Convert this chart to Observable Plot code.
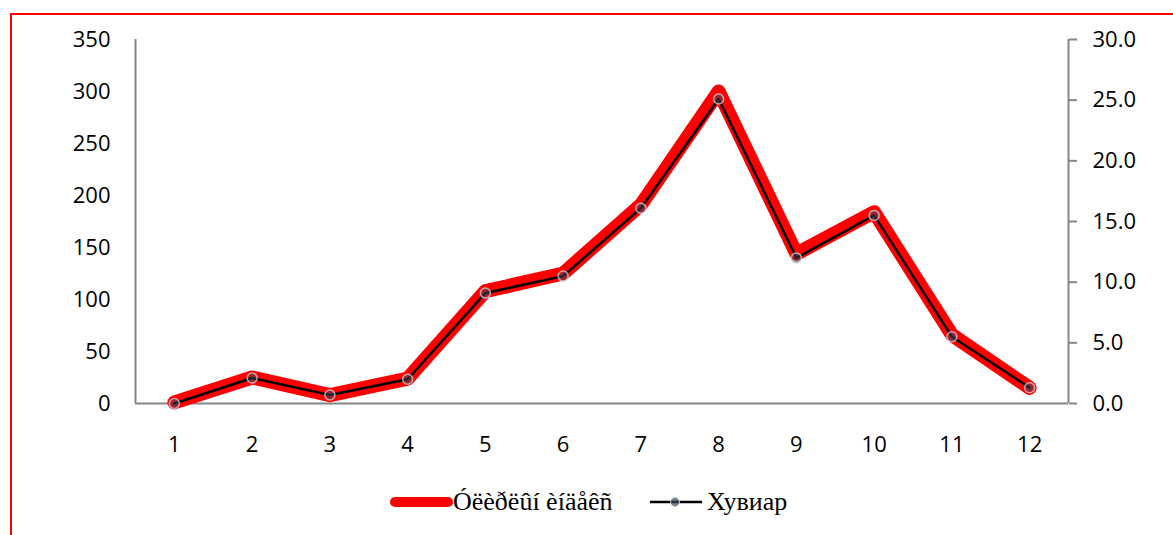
<!DOCTYPE html>
<html><head><meta charset="utf-8">
<script src="https://cdn.jsdelivr.net/npm/d3@7"></script>
<script src="https://cdn.jsdelivr.net/npm/@observablehq/plot@0.6"></script>
<style>
body{margin:0;background:#fff}
#wrap{position:relative;width:1173px;height:535px;overflow:hidden;background:#fff}
#border{position:absolute;left:10px;top:13px;width:1300px;height:700px;border-left:2px solid #ff0000;border-top:2px solid #ff0000;pointer-events:none}
#legend{position:relative;height:65px;font-family:"Liberation Serif",serif;font-size:26px;color:#000}
.item{position:absolute;top:17px;display:flex;align-items:center;white-space:nowrap}
</style></head>
<body>
<div id="wrap"><div id="chart"></div><div id="legend"></div><div id="border"></div></div>
<script>
const months = [1,2,3,4,5,6,7,8,9,10,11,12];
const indexValues = [1,25,8,24,108,125,191,300,144,184,66,15];
const percentValues = [0.0,2.1,0.7,2.0,9.1,10.5,16.1,25.1,12.0,15.5,5.5,1.3];
const leftTicks = [0,50,100,150,200,250,300,350];
const rightTicks = [0,5,10,15,20,25,30];
const seriesNames = ["Óëèðëûí èíäåêñ","Хувиар"];
const leftMax = 350, rightMax = 30;

const rows = months.map((m,i)=>({m, idx: indexValues[i], pct: percentValues[i], pctScaled: percentValues[i]*leftMax/rightMax}));
const axisGray = "#868686";
const font = "'Open Sans', sans-serif";

const chart = Plot.plot({
  width: 1173, height: 470,
  marginLeft: 135, marginRight: 105, marginTop: 39, marginBottom: 67,
  style: {fontFamily: font, fontSize: "22px", color: "#000", background: "#fff"},
  x: {domain: [0.5, 12.5]},
  y: {domain: [0, leftMax]},
  marks: [
    Plot.ruleY([0], {stroke: axisGray, strokeWidth: 2}),
    Plot.ruleX([0.5, 12.5], {stroke: axisGray, strokeWidth: 2}),
    Plot.axisY(leftTicks, {anchor: "left", tickSize: 0, tickPadding: 25, label: null, fontSize: 22}),
    Plot.axisY(rightTicks.map(t => t*leftMax/rightMax), {anchor: "right", tickSize: 8, tickPadding: 16, stroke: axisGray, strokeWidth: 2, label: null, fontSize: 22, tickFormat: d => (d*rightMax/leftMax).toFixed(1)}),
    Plot.axisX(months, {anchor: "bottom", tickSize: 0, tickPadding: 33, label: null, fontSize: 22, tickFormat: d => String(d)}),
    Plot.line(rows, {x: "m", y: "idx", stroke: "#ff0000", strokeWidth: 14, strokeLinejoin: "round", strokeLinecap: "round"}),
    Plot.line(rows, {x: "m", y: "pctScaled", stroke: "#000", strokeWidth: 2.5}),
    Plot.dot(rows, {x: "m", y: "pctScaled", r: 5, fill: "#3d4a5e", fillOpacity: 0.5, stroke: "#c8ced6", strokeOpacity: 0.8, strokeWidth: 1.5})
  ]
});
document.getElementById("chart").appendChild(chart);

const legend = document.getElementById("legend");
legend.innerHTML = `
<div class="item" style="left:388px">
  <svg width="65" height="20"><line x1="7" y1="10" x2="60" y2="10" stroke="#ff0000" stroke-width="10" stroke-linecap="round"/></svg>
  <span>${seriesNames[0]}</span>
</div>
<div class="item" style="left:650px">
  <svg width="54" height="20"><line x1="0" y1="10" x2="52" y2="10" stroke="#000" stroke-width="2.5"/><circle cx="25" cy="10" r="4.5" fill="#3d4a5e" fill-opacity="0.7" stroke="#c8ced6" stroke-width="1"/></svg>
  <span style="margin-left:3px">${seriesNames[1]}</span>
</div>`;
</script>
</body></html>
